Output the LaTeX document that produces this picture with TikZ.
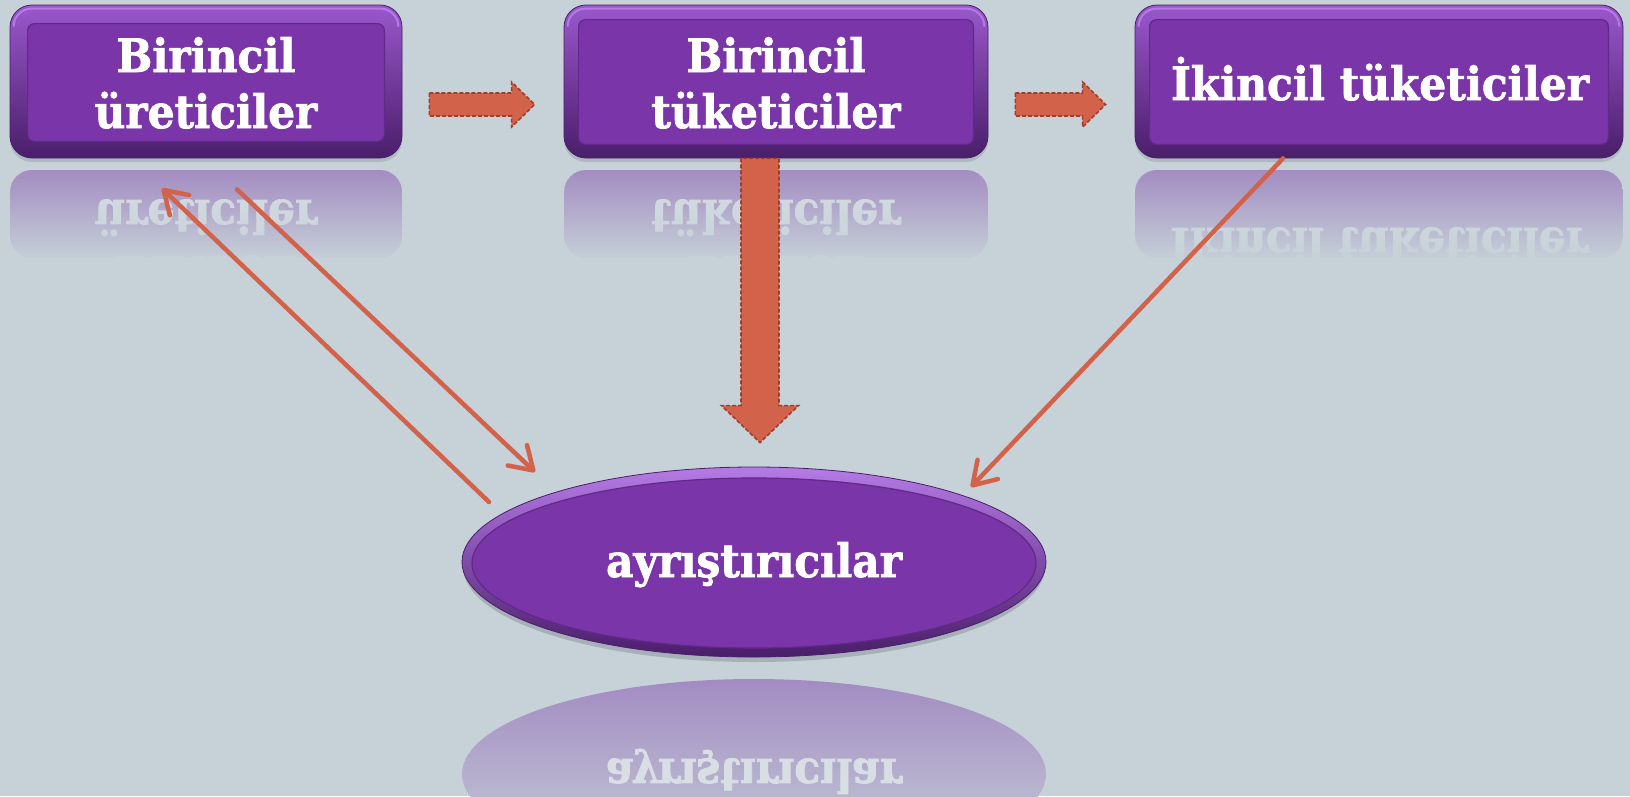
\documentclass[tikz,border=0pt]{standalone}
\usepackage{fontspec}
\setmainfont{DejaVu Serif}[FakeStretch=0.92, BoldFont={DejaVu Serif Bold}, BoldFeatures={FakeStretch=0.92, FakeBold=1.6}]
\usetikzlibrary{arrows.meta,fadings,calc,shapes.geometric}

\definecolor{bgcol}{HTML}{C6D1D8}
\definecolor{boxpurple}{HTML}{7A35A8}
\definecolor{boxdark}{HTML}{4A1E6A}
\definecolor{boxlight}{HTML}{9A58CC}
\definecolor{boxedge}{HTML}{B57AE6}
\definecolor{panelline}{HTML}{62288A}
\definecolor{reflpurple}{HTML}{A38BC2}
\definecolor{reflink}{HTML}{D8DEE4}
\definecolor{arrowfill}{HTML}{D3624A}
\definecolor{arrowedge}{HTML}{A13F2C}
\definecolor{shadowgray}{HTML}{98A2AA}

\tikzfading[name=fadebottom, top color=transparent!100, middle color=transparent!65, bottom color=transparent!0]

\tikzset{
  lbl/.style={text=white, font=\fontsize{46}{56}\selectfont\bfseries, inner sep=0pt, anchor=base},
  refl/.style={text=reflink, font=\fontsize{46}{56}\selectfont\bfseries, inner sep=0pt, anchor=base, yscale=-1},
  outerbox/.style={rounded corners=22pt, inner sep=0pt, top color=boxlight, middle color=boxpurple, bottom color=boxdark, draw=boxdark, line width=0.8pt},
  panel/.style={fill=boxpurple, draw=panelline, line width=1.2pt, rounded corners=7pt},
  blockarrow/.style={fill=arrowfill, draw=arrowedge, line width=1.6pt, dash pattern=on 4pt off 2pt, line join=miter},
  thinarrow/.style={draw=arrowfill, line width=4.5pt, line cap=round, -{Straight Barb[length=22pt,width=28pt,line cap=round,line join=round]}},
}

\begin{document}
\begin{tikzpicture}[x=1pt,y=-1pt]
% canvas
\fill[bgcol] (0,0) rectangle (1630,796);
\useasboundingbox (0,0) rectangle (1630,796);

% ---- mirrored reflections under the boxes ----
\begin{scope}
  \clip[rounded corners=22pt] (10,170) rectangle (402,258);
  \fill[reflpurple] (10,170) rectangle (402,258);
  \node[refl] (r1a) at (206,200) {üreticiler};
  \node[refl] (r1b) at (206,256) {Birincil};
\end{scope}
\fill[bgcol, path fading=fadebottom] (8,168) rectangle (404,260);

\begin{scope}
  \clip[rounded corners=22pt] (564,170) rectangle (988,258);
  \fill[reflpurple] (564,170) rectangle (988,258);
  \node[refl] (r2a) at (776,200) {tüketiciler};
  \node[refl] (r2b) at (776,256) {Birincil};
\end{scope}
\fill[bgcol, path fading=fadebottom] (562,168) rectangle (990,260);

\begin{scope}
  \clip[rounded corners=22pt] (1135,170) rectangle (1623,258);
  \fill[reflpurple] (1135,170) rectangle (1623,258);
  \node[refl] (r3a) at (1379,228) {İkincil tüketiciler};
\end{scope}
\fill[bgcol, path fading=fadebottom] (1133,168) rectangle (1625,260);

% ---- mirrored reflection under the ellipse ----
\begin{scope}
  \clip (754,774) ellipse [x radius=292, y radius=95];
  \shade[top color=reflpurple, bottom color=bgcol] (460,679) rectangle (1048,869);
  \node[refl] (r4) at (754,759) {ayrıştırıcılar};
\end{scope}

% ---- shadows ----
\fill[shadowgray, opacity=0.5, rounded corners=22pt] (10,9) rectangle (402,162);
\fill[shadowgray, opacity=0.5, rounded corners=22pt] (564,9) rectangle (988,162);
\fill[shadowgray, opacity=0.5, rounded corners=22pt] (1135,9) rectangle (1623,162);
\fill[shadowgray, opacity=0.7] (754,567) ellipse [x radius=291, y radius=95];

% ---- boxes ----
\node[outerbox, minimum width=392pt, minimum height=153pt] (p1) at (206,81.5) {};
\node[outerbox, minimum width=424pt, minimum height=153pt] (p2) at (776,81.5) {};
\node[outerbox, minimum width=488pt, minimum height=153pt] (p3) at (1379,81.5) {};

% bright rim along the top edges
\foreach \b in {p1,p2,p3}{
  \draw[boxedge, line width=2pt] ($(\b.north west)+(4,22)$) arc[start angle=180, end angle=270, radius=18]
    -- ($(\b.north east)+(-22,4)$) arc[start angle=270, end angle=360, radius=18];
}

\draw[panel] ($(p1.north west)+(18,19)$) rectangle ($(p1.south east)+(-18,-17)$);
\draw[panel] ($(p2.north west)+(15,15)$) rectangle ($(p2.south east)+(-15,-14)$);
\draw[panel] ($(p3.north west)+(15,15)$) rectangle ($(p3.south east)+(-15,-14)$);

% ---- ellipse ----
\node[ellipse, inner sep=0pt, minimum width=584pt, minimum height=190pt,
      top color=boxedge, middle color=boxpurple, bottom color=boxdark, draw=boxdark, line width=0.8pt] (dec) at (754,562) {};
\fill[boxpurple, draw=panelline, line width=1.2pt] ($(dec.center)+(0,1)$) ellipse [x radius=282, y radius=85];

% ---- labels ----
\node[lbl] (t1a) at (206,72) {Birincil};
\node[lbl] (t1b) at (206,128) {üreticiler};
\node[lbl] (t2a) at (776,72) {Birincil};
\node[lbl] (t2b) at (776,128) {tüketiciler};
\node[lbl] (t3) at (1380,100) {İkincil tüketiciler};
\node[lbl] (t4) at (754,577) {ayrıştırıcılar};

% ---- block arrows along the chain ----
\coordinate (h1a) at ($(p1.east)+(27,23)$);
\coordinate (h1b) at ($(p2.west)+(-29,23)$);
\coordinate (h2a) at ($(p2.east)+(27,23)$);
\coordinate (h2b) at ($(p3.west)+(-29,23)$);
\foreach \s/\e in {h1a/h1b, h2a/h2b}{
  \draw[blockarrow] ($(\s)+(0,-11.5)$) -- ($(\e)+(-23,-11.5)$) -- ($(\e)+(-23,-22.5)$)
    -- (\e) -- ($(\e)+(-23,22.5)$) -- ($(\e)+(-23,11.5)$) -- ($(\s)+(0,11.5)$) -- cycle;
}

% ---- thick block arrow down to the decomposers ----
\coordinate (v1a) at ($(p2.south)+(-16,0)$);
\coordinate (v1b) at ($(dec.north)+(6,-24)$);
\draw[blockarrow] ($(v1a)+(-19,0)$) -- ($(v1b)+(-19,-37)$) -- ($(v1b)+(-38.5,-37)$)
  -- (v1b) -- ($(v1b)+(38.5,-37)$) -- ($(v1b)+(19,-37)$) -- ($(v1a)+(19,0)$) -- cycle;

% ---- thin arrows ----
\coordinate (a1s) at ($(p1.south)+(31,31)$);
\coordinate (a1e) at ($(dec.center)+(-219,-90)$);
\coordinate (a2s) at ($(dec.center)+(-265,-60)$);
\coordinate (a2e) at ($(p1.south)+(-44,30)$);
\coordinate (a3s) at ($(p3.south)+(-96,0)$);
\coordinate (a3e) at ($(dec.center)+(217,-75)$);
\draw[thinarrow] (a1s) -- (a1e);
\draw[thinarrow] (a2s) -- (a2e);
\draw[thinarrow] (a3s) -- (a3e);
\end{tikzpicture}
\end{document}
